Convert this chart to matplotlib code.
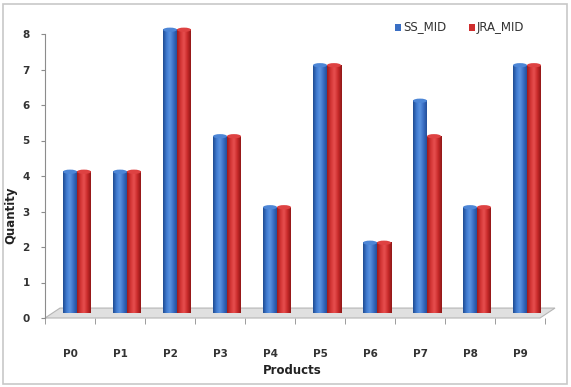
import numpy as np
import matplotlib
matplotlib.use("Agg")
import matplotlib.pyplot as plt
from matplotlib.colors import LinearSegmentedColormap
from matplotlib.patches import Ellipse, Polygon, Rectangle

# data
products = ["P0", "P1", "P2", "P3", "P4", "P5", "P6", "P7", "P8", "P9"]
ss_mid = [4, 4, 8, 5, 3, 7, 2, 6, 3, 7]
jra_mid = [4, 4, 8, 5, 3, 7, 2, 5, 3, 7]
y_ticks = [0, 1, 2, 3, 4, 5, 6, 7, 8]

blue_map = LinearSegmentedColormap.from_list(
    "blue_cyl", ["#1f4a8f", "#3f7ad0", "#5b93e0", "#3a6fc4", "#234f99"])
red_map = LinearSegmentedColormap.from_list(
    "red_cyl", ["#9c1a1a", "#d33434", "#e85050", "#c92a2a", "#8f1717"])

fig = plt.figure(figsize=(5.71, 3.87), dpi=100)
ax = fig.add_axes([45 / 571, 69 / 387, 500 / 571, 8.5 * 35.5 / 387])

width = 0.28
base = 0.14
depth = 0.12
grad = np.linspace(0, 1, 64).reshape(1, -1)


def cylinder(x, value, cmap, cap_color):
    # body with a horizontal shade, then an elliptic cap
    left = x - width / 2
    top = value + depth
    ax.imshow(grad, cmap=cmap, extent=[left, left + width, base, top],
              aspect="auto", zorder=3, interpolation="bicubic")
    ax.add_patch(Ellipse((x, top), width, depth, facecolor=cap_color,
                         edgecolor="none", zorder=4))


xs = np.arange(len(products))
for i in range(len(products)):
    cylinder(xs[i], ss_mid[i], blue_map, "#4d86d6")
    cylinder(xs[i] + width, jra_mid[i], red_map, "#de4242")

# the floor of the 3d chart
floor = Polygon([[-0.5, 0], [9.4, 0], [9.7, 0.28], [-0.2, 0.28]],
                closed=True, facecolor="#e0e0e0", edgecolor="#b5b5b5",
                linewidth=0.8, zorder=2, clip_on=False)
ax.add_patch(floor)

ax.set_xlim(-0.5, 9.5)
ax.set_ylim(0, 8.5)

for s in ["top", "right", "bottom"]:
    ax.spines[s].set_visible(False)
ax.spines["left"].set_color("#8c8c8c")
ax.spines["left"].set_bounds(0, 8)

ax.set_yticks(y_ticks)
ax.set_yticklabels([str(v) for v in y_ticks], fontsize=7.5,
                   fontweight="bold", color="#333333")
ax.set_xticks(xs)
ax.set_xticklabels(products, fontsize=7.5, fontweight="bold", color="#333333")
ax.tick_params(axis="x", length=0, pad=22)
ax.set_xticks(np.arange(-0.5, 10, 1), minor=True)
ax.tick_params(axis="x", which="minor", length=4, color="#8c8c8c",
               direction="out")
ax.tick_params(axis="y", length=3, color="#8c8c8c", pad=8)

fig.text(292 / 571, 1 - 370 / 387, "Products", ha="center", va="center",
         fontsize=8.5, fontweight="bold", color="#222222")
fig.text(11 / 571, 1 - 215 / 387, "Quantity", ha="center", va="center",
         rotation=90, fontsize=8.5, fontweight="bold", color="#222222")

# legend in the top right
fig.patches.append(Rectangle((395 / 571, 1 - 31 / 387), 6 / 571, 7 / 387,
                             transform=fig.transFigure, facecolor="#3a6fc4",
                             edgecolor="none"))
fig.text(403 / 571, 1 - 27 / 387, "SS_MID", va="center", fontsize=8.5,
         color="#333333")
fig.patches.append(Rectangle((469 / 571, 1 - 31 / 387), 6 / 571, 7 / 387,
                             transform=fig.transFigure, facecolor="#cf2e2e",
                             edgecolor="none"))
fig.text(477 / 571, 1 - 27 / 387, "JRA_MID", va="center", fontsize=8.5,
         color="#333333")

# chart frame
fig.patches.append(Rectangle((3 / 571, 3 / 387), 564 / 571, 380 / 387,
                             transform=fig.transFigure, facecolor="none",
                             edgecolor="#c8c8c8", linewidth=1.2))

fig.savefig("out.png", dpi=100)
